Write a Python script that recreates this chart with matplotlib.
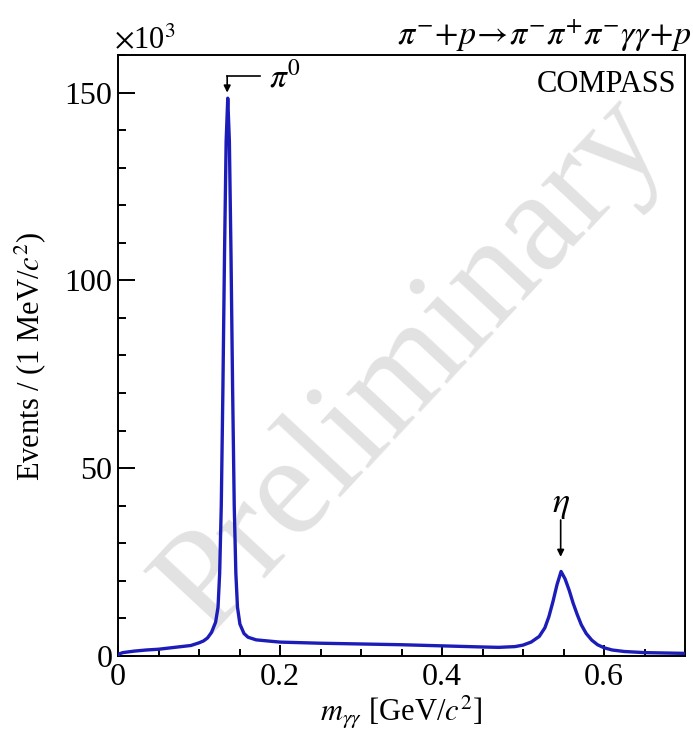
import matplotlib
matplotlib.use("Agg")
import matplotlib.pyplot as plt
from matplotlib.ticker import MultipleLocator, FixedLocator

# ---- data: m_gg in GeV, events per MeV in units of 10^3
mass = [0.000, 0.002, 0.006, 0.02, 0.035, 0.05, 0.07, 0.09, 0.100, 0.1055,
        0.1105, 0.1155, 0.1205, 0.1235, 0.1255, 0.1275, 0.1295, 0.1315, 0.1335,
        0.1355, 0.1375, 0.1395, 0.1415, 0.1435, 0.1455, 0.1475, 0.1505, 0.1555,
        0.1605, 0.1705, 0.185, 0.20, 0.25, 0.30, 0.35, 0.40, 0.45, 0.47,
        0.49, 0.50, 0.51, 0.52, 0.527, 0.532, 0.537, 0.542, 0.547, 0.552,
        0.557, 0.562, 0.567, 0.572, 0.578, 0.585, 0.592, 0.60, 0.61, 0.625,
        0.65, 0.675, 0.70]
events = [0.2, 0.6, 0.9, 1.3, 1.6, 1.8, 2.3, 2.8, 3.5, 4.0,
          4.8, 6.3, 9.0, 13.0, 22.0, 40.0, 71.0, 107.0, 137.0,
          148.5, 137.0, 107.0, 71.0, 40.0, 22.0, 13.0, 8.5, 6.0,
          5.0, 4.3, 4.0, 3.7, 3.4, 3.2, 3.0, 2.7, 2.4, 2.3,
          2.5, 2.9, 3.7, 5.2, 7.5, 10.5, 14.5, 19.0, 22.5, 20.5,
          17.5, 14.0, 11.0, 8.3, 6.0, 4.2, 3.0, 2.2, 1.6, 1.2,
          0.9, 0.8, 0.7]

x_ticks = [0, 0.2, 0.4, 0.6]
x_tick_labels = ["0", "0.2", "0.4", "0.6"]
y_ticks = [0, 50, 100, 150]
y_tick_labels = ["0", "50", "100", "150"]

W, H = 693, 733
plt.rcParams['font.family'] = ['Liberation Serif', 'DejaVu Serif']
plt.rcParams['mathtext.fontset'] = 'stix'

fig = plt.figure(figsize=(W / 100, H / 100), dpi=100)
L, R, T, B = 118, 685, 55, 656
ax = fig.add_axes([L / W, 1 - B / H, (R - L) / W, (B - T) / H])

def fx(px):
    return px / W

def fy(py):
    return 1 - py / H

# watermark
ax.text(0.52, 0.485, "Preliminary", transform=ax.transAxes, rotation=47,
        fontsize=103, color="#e2e2e2", ha="center", va="center", zorder=0)

ax.plot(mass, events, color="#1c1cb8", lw=2.4, zorder=3, solid_joinstyle="round")

ax.set_xlim(0, 0.7)
ax.set_ylim(0, 160)

ax.xaxis.set_major_locator(FixedLocator(x_ticks))
ax.set_xticklabels(x_tick_labels)
ax.xaxis.set_minor_locator(MultipleLocator(0.05))
ax.yaxis.set_major_locator(FixedLocator(y_ticks))
ax.set_yticklabels(y_tick_labels)
ax.yaxis.set_minor_locator(MultipleLocator(10))

ax.tick_params(axis="both", which="both", direction="in", top=False, right=False,
               labelsize=23, width=1.4, colors="black")
ax.tick_params(axis="y", which="major", length=12, pad=4)
ax.tick_params(axis="y", which="minor", length=6)
ax.tick_params(axis="x", which="major", length=8, pad=5)
ax.tick_params(axis="x", which="minor", length=5)
for s in ax.spines.values():
    s.set_linewidth(1.4)

ax.set_xlabel(r"$m_{\gamma\gamma}$ [GeV/$c^{2}$]", fontsize=22, labelpad=1)
fig.text(fx(30), fy(356), r"Events / (1 MeV/$c^{2}$)", rotation=90, fontsize=22,
         ha="center", va="center")

fig.text(fx(114), fy(48), r"$\times$10$^{3}$", fontsize=22, ha="left", va="baseline")
fig.text(fx(691), fy(44), r"$\pi^{-}\!+\!p\!\rightarrow\!\pi^{-}\pi^{+}\pi^{-}\gamma\gamma\!+\!p$",
         fontsize=24.5, ha="right", va="baseline")
ax.text(0.984, 0.975, "COMPASS", transform=ax.transAxes, fontsize=22,
        ha="right", va="top")

# pi0 annotation
ax.annotate("", xy=(0.1348, 150.0), xytext=(0.1348, 154.4),
            arrowprops=dict(arrowstyle="-|>", color="black", lw=1.2,
                            mutation_scale=10, shrinkA=0, shrinkB=0))
ax.plot([0.1348, 0.175], [154.4, 154.4], color="black", lw=1.2)
ax.text(0.186, 154.0, r"$\pi^{0}$", fontsize=24, ha="left", va="center")

# eta annotation
ax.annotate("", xy=(0.5465, 26.4), xytext=(0.5465, 36.2),
            arrowprops=dict(arrowstyle="-|>", color="black", lw=1.2,
                            mutation_scale=10, shrinkA=0, shrinkB=0))
ax.text(0.5465, 36.0, r"$\eta$", fontsize=26, ha="center", va="bottom")

fig.savefig("out.png", dpi=100)
